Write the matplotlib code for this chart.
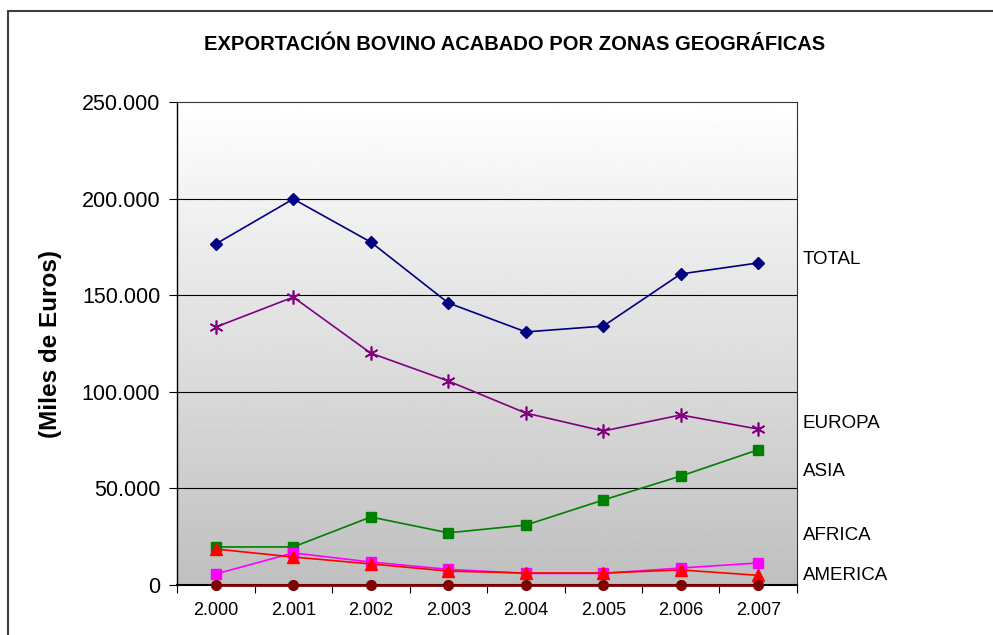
import numpy as np
import matplotlib
matplotlib.use("Agg")
import matplotlib.pyplot as plt
from matplotlib.patches import Rectangle

plt.rcParams['font.family'] = ['Liberation Sans', 'DejaVu Sans']

years = ['2.000', '2.001', '2.002', '2.003', '2.004', '2.005', '2.006', '2.007']
total = [176500, 199800, 177500, 146000, 131000, 134000, 161000, 166700]
europa = [133500, 149000, 120000, 105600, 89000, 79700, 88000, 80700]
asia = [19700, 19700, 35200, 27000, 31000, 44000, 56400, 70000]
africa = [18600, 14500, 10900, 7200, 6200, 6200, 7800, 5000]
america = [5700, 16600, 11900, 8100, 6000, 6000, 8800, 11400]
oceania = [0, 0, 0, 0, 0, 0, 0, 0]

fig = plt.figure(figsize=(9.93, 6.35), dpi=100)
ax = fig.add_axes([177 / 993, 1 - 585 / 635, 620 / 993, 483 / 635])

x = np.arange(len(years))
ax.set_xlim(-0.5, len(years) - 0.5)
ax.set_ylim(0, 250000)

# fondo degradado blanco -> gris
grad = np.linspace(1.0, 0.75, 256).reshape(-1, 1)
ax.imshow(grad, cmap='gray', vmin=0, vmax=1, aspect='auto',
          extent=[0, 1, 0, 1], transform=ax.transAxes, zorder=0)

for y in [50000, 100000, 150000, 200000]:
    ax.axhline(y, color='black', lw=0.8, zorder=1)

ax.plot(x, total, color='#000080', marker='D', ms=6, lw=1.2, zorder=3)
ax.plot(x, europa, color='#800080', marker=(6, 2, 0), ms=10, mew=1.2, lw=1.2, zorder=3)
ax.plot(x, asia, color='#008000', marker='s', ms=7, lw=1.2, zorder=3)
ax.plot(x, america, color='#FF00FF', marker='s', ms=7, lw=1.2, zorder=3)
ax.plot(x, africa, color='#FF0000', marker='^', ms=8, lw=1.2, zorder=3)
ax.plot(x, oceania, color='#800000', marker='o', ms=7, lw=2, zorder=4, clip_on=False)

ax.set_yticks([0, 50000, 100000, 150000, 200000, 250000])
ax.set_yticklabels(['0', '50.000', '100.000', '150.000', '200.000', '250.000'], fontsize=15.5)
ax.set_xticks(x)
ax.set_xticklabels(years, fontsize=13)
ax.set_xticks(np.arange(-0.5, len(years)), minor=True)
ax.tick_params(axis='x', which='major', length=0, pad=12)
ax.tick_params(axis='x', which='minor', length=6, direction='out', width=0.8)
ax.tick_params(axis='y', length=6, direction='out', width=0.8, pad=6)

for s in ['top', 'right']:
    ax.spines[s].set_linewidth(0.8)
    ax.spines[s].set_color('#333333')
ax.spines['left'].set_linewidth(1.0)
ax.spines['bottom'].set_linewidth(1.5)

ax.set_ylabel('(Miles de Euros)', fontsize=17.5, fontweight='bold', labelpad=14)

fig.text(0.518, 1 - 44 / 635, 'EXPORTACIÓN BOVINO ACABADO POR ZONAS GEOGRÁFICAS',
         ha='center', va='center', fontsize=14.5, fontweight='bold')

labels = [('TOTAL', 260), ('EUROPA', 423), ('ASIA', 471), ('AFRICA', 535), ('AMERICA', 575)]
for name, py in labels:
    fig.text(803 / 993, 1 - py / 635, name, ha='left', va='center', fontsize=13.5)

fig.patches.append(Rectangle((8 / 993, -0.05), 1.2, 1 - 11 / 635 + 0.05,
                             transform=fig.transFigure, fill=False,
                             edgecolor='#404040', lw=1.5))

fig.savefig('out.png', dpi=100)
